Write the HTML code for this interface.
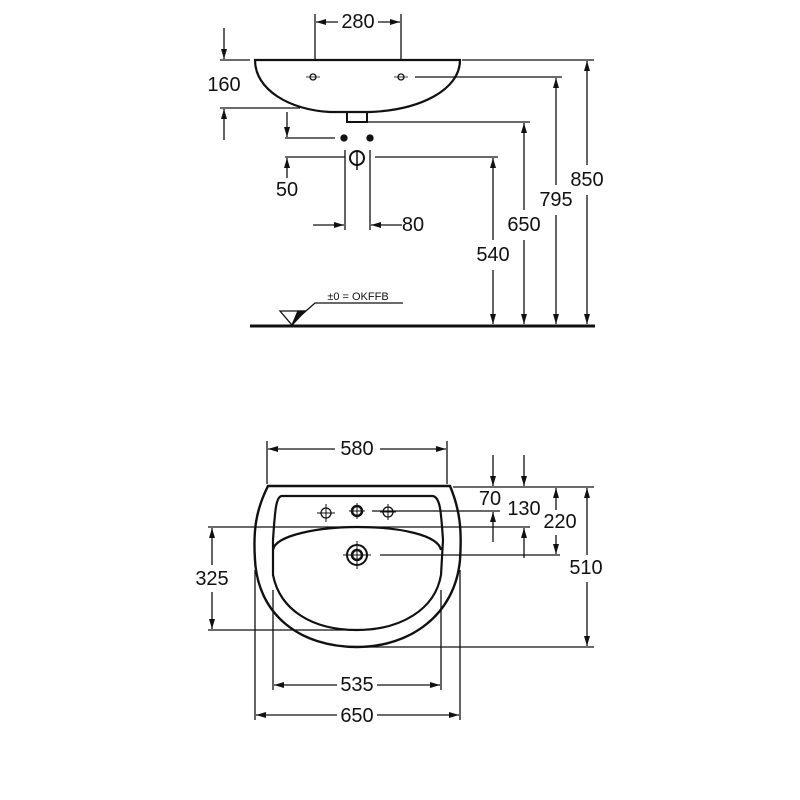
<!DOCTYPE html>
<html><head><meta charset="utf-8"><style>
html,body{margin:0;padding:0;background:#fff;}
svg{display:block;}
text{font-family:"Liberation Sans",sans-serif;font-size:20px;fill:#111;text-anchor:middle;dominant-baseline:central;}
</style></head><body>
<svg width="800" height="800" viewBox="0 0 800 800" xmlns="http://www.w3.org/2000/svg">
<defs>
<marker id="a" viewBox="0 0 10 6" refX="10" refY="3" markerWidth="10" markerHeight="6" markerUnits="userSpaceOnUse" orient="auto"><path d="M0,0 L10,3 L0,6 z" fill="#111"/></marker>
</defs>
<g stroke="#111" stroke-width="1.3" fill="none">
<!-- TOP VIEW -->
<line x1="315" y1="14" x2="315" y2="60"/><line x1="401" y1="14" x2="401" y2="60"/>
<line x1="338" y1="22" x2="316" y2="22" marker-end="url(#a)"/><line x1="378" y1="22" x2="400" y2="22" marker-end="url(#a)"/>
<path d="M255,60 L460,60 C460,90 420,110 370,112 L330,112 C290,110 255,90 255,60 Z" stroke-width="2.2"/>
<path d="M347,113 L347,122 L367,122 L367,113" stroke-width="2"/>
<circle cx="313" cy="77" r="3"/><circle cx="401" cy="77" r="3"/>
<line x1="306" y1="77" x2="320" y2="77" stroke-width="0.8"/><line x1="394" y1="77" x2="408" y2="77" stroke-width="0.8"/>
<!-- 160 -->
<line x1="220" y1="60" x2="250" y2="60"/><line x1="220" y1="108" x2="300" y2="108"/>
<line x1="224" y1="28" x2="224" y2="59" marker-end="url(#a)"/><line x1="224" y1="140" x2="224" y2="109" marker-end="url(#a)"/>
<!-- 50 -->
<line x1="285" y1="138" x2="335" y2="138"/><line x1="285" y1="157" x2="345" y2="157"/>
<line x1="287" y1="112" x2="287" y2="137" marker-end="url(#a)"/><line x1="287" y1="178" x2="287" y2="158" marker-end="url(#a)"/>
<circle cx="344" cy="138" r="3" fill="#111"/><circle cx="370" cy="138" r="3" fill="#111"/>
<circle cx="357" cy="158" r="7" stroke-width="2"/><line x1="357" y1="151" x2="357" y2="170" stroke-width="1.5"/>
<line x1="345" y1="150" x2="345" y2="230"/><line x1="370" y1="150" x2="370" y2="230"/>
<line x1="313" y1="225" x2="344" y2="225" marker-end="url(#a)"/><line x1="402" y1="225" x2="371" y2="225" marker-end="url(#a)"/>
<!-- heights -->
<line x1="375" y1="157" x2="498" y2="157"/><line x1="493" y1="240" x2="493" y2="158" marker-end="url(#a)"/><line x1="493" y1="270" x2="493" y2="324" marker-end="url(#a)"/>
<line x1="367" y1="122" x2="530" y2="122"/><line x1="524" y1="210" x2="524" y2="123" marker-end="url(#a)"/><line x1="524" y1="240" x2="524" y2="324" marker-end="url(#a)"/>
<line x1="415" y1="77" x2="562" y2="77"/><line x1="556" y1="185" x2="556" y2="78" marker-end="url(#a)"/><line x1="556" y1="215" x2="556" y2="324" marker-end="url(#a)"/>
<line x1="462" y1="60" x2="594" y2="60"/><line x1="587" y1="165" x2="587" y2="61" marker-end="url(#a)"/><line x1="587" y1="195" x2="587" y2="324" marker-end="url(#a)"/>
<line x1="250" y1="326" x2="595" y2="326" stroke-width="3"/>
<path d="M280,311 L305,311 L292,325 Z"/><path d="M292,325 L305,311 L298,311 Z" fill="#111"/>
<path d="M298,318 L315,303 L403,303"/>
<!-- BOTTOM VIEW -->
<line x1="267" y1="441" x2="267" y2="484"/><line x1="447" y1="441" x2="447" y2="484"/>
<line x1="335" y1="449" x2="268" y2="449" marker-end="url(#a)"/><line x1="380" y1="449" x2="446" y2="449" marker-end="url(#a)"/>
<path d="M268,486 L450,486 C460,510 462,530 460,560 C455,615 410,647 357,647 C300,647 258,615 255,560 C253,530 256,510 268,486 Z" stroke-width="2.4"/>
<path d="M282,496 L432,496 C440,496 441,510 443,540 L441,575 C435,610 400,630 357,630 C312,630 280,610 273,575 L273,540 C275,510 276,496 282,496 Z" stroke-width="2.2"/>
<path d="M273,550 C275,535 320,527 357,527 C400,527 438,535 441,550" stroke-width="2.2"/>
<circle cx="326" cy="513" r="5"/><path d="M317,513 H335 M326,504 V522" stroke-width="1"/>
<circle cx="357" cy="511" r="5" stroke-width="2.5"/><path d="M349,511 H365 M357,503 V519" stroke-width="1"/>
<circle cx="388" cy="512" r="5"/><path d="M380,512 H396 M388,504 V520" stroke-width="1"/>
<circle cx="357" cy="555" r="10" stroke-width="2"/><circle cx="357" cy="555" r="5" stroke-width="2.5"/><path d="M343,555 H371 M357,541 V569" stroke-width="1"/>
<line x1="453" y1="487" x2="594" y2="487"/>
<line x1="372" y1="511" x2="500" y2="511"/>
<line x1="208" y1="527" x2="530" y2="527"/>
<line x1="380" y1="555" x2="560" y2="555"/>
<line x1="208" y1="630" x2="357" y2="630"/>
<line x1="357" y1="647" x2="594" y2="647"/>
<line x1="493" y1="455" x2="493" y2="486" marker-end="url(#a)"/><line x1="493" y1="542" x2="493" y2="512" marker-end="url(#a)"/>
<line x1="524" y1="455" x2="524" y2="486" marker-end="url(#a)"/><line x1="524" y1="558" x2="524" y2="528" marker-end="url(#a)"/>
<line x1="556" y1="510" x2="556" y2="488" marker-end="url(#a)"/><line x1="556" y1="535" x2="556" y2="554" marker-end="url(#a)"/>
<line x1="587" y1="555" x2="587" y2="488" marker-end="url(#a)"/><line x1="587" y1="582" x2="587" y2="646" marker-end="url(#a)"/>
<line x1="212" y1="565" x2="212" y2="528" marker-end="url(#a)"/><line x1="212" y1="592" x2="212" y2="629" marker-end="url(#a)"/>
<line x1="273" y1="590" x2="273" y2="690"/><line x1="441" y1="590" x2="441" y2="690"/>
<line x1="337" y1="685" x2="274" y2="685" marker-end="url(#a)"/><line x1="377" y1="685" x2="440" y2="685" marker-end="url(#a)"/>
<line x1="255" y1="570" x2="255" y2="720"/><line x1="460" y1="570" x2="460" y2="720"/>
<line x1="337" y1="715" x2="256" y2="715" marker-end="url(#a)"/><line x1="377" y1="715" x2="459" y2="715" marker-end="url(#a)"/>
</g>
<text x="358" y="22">280</text>
<text x="224" y="85">160</text>
<text x="287" y="190">50</text>
<text x="413" y="225">80</text>
<text x="493" y="255">540</text>
<text x="524" y="225">650</text>
<text x="556" y="200">795</text>
<text x="587" y="180">850</text>
<text x="358" y="297" style="font-size:11px">±0 = OKFFB</text>
<text x="357" y="449">580</text>
<text x="490" y="499">70</text>
<text x="524" y="509">130</text>
<text x="560" y="522">220</text>
<text x="586" y="568">510</text>
<text x="212" y="579">325</text>
<text x="357" y="685">535</text>
<text x="357" y="716">650</text>
</svg>
</body></html>
